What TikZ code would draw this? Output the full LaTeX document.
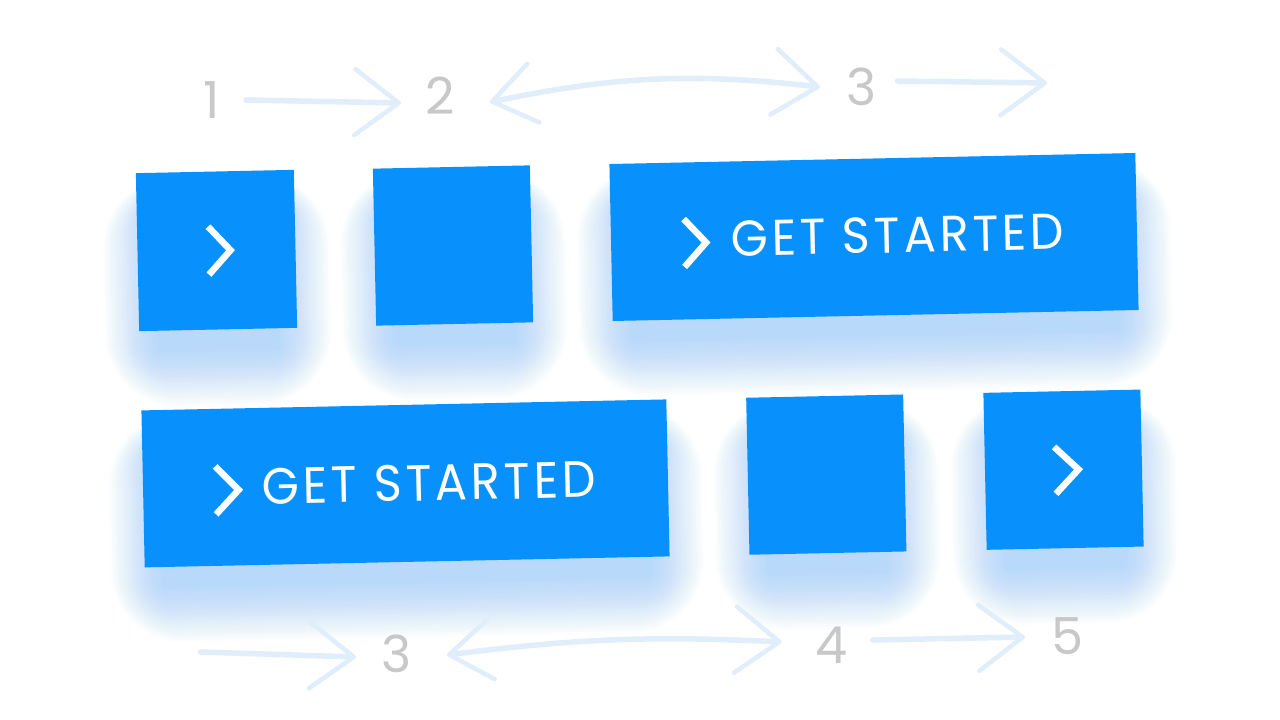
\documentclass[tikz,border=0pt]{standalone}
\usepackage{fontspec}
\usetikzlibrary{arrows.meta}
\newfontfamily\pop{Poppins}
\newfontfamily\popsp{Poppins}[LetterSpace=8]
\definecolor{btn}{HTML}{0890FD}
\definecolor{shd}{HTML}{70B9FA}
\definecolor{arr}{HTML}{E0EEFC}
\definecolor{num}{HTML}{C8C8C8}
\newcommand\shadowlayers[2]{%
  \foreach \d in {72,69,...,3}{%
    \fill[shd, opacity=0.025, rounded corners=\d pt]
      ({-#1/2+20-0.75*\d},{-#2/2+40-0.5*\d}) rectangle ({#1/2-20+0.75*\d},{#2/2+18+0.8*\d});}}
\tikzset{
  btnbox/.style={fill=btn, draw=none, inner sep=0pt, minimum height=157pt},
  chevron/.style={draw=white, line width=6.5pt, line cap=butt, line join=miter},
  numlabel/.style={text=num, inner sep=0pt, font=\pop\fontsize{51}{51}\selectfont},
  btntext/.style={text=white, inner sep=0pt},
  hand/.style={draw=arr, line width=5.5pt, line cap=round},
  tipr/.style={-{Straight Barb[length=44pt,width=66pt,line width=4.5pt,round]}},
  tipb/.style={{Straight Barb[length=42pt,width=60pt,line width=4.5pt,round]}-{Straight Barb[length=44pt,width=66pt,line width=4.5pt,round]}}
}
\begin{document}
\begin{tikzpicture}[x=1pt,y=-1pt]
\useasboundingbox (0,0) rectangle (1280,720);
\fill[white] (0,0) rectangle (1280,720);

% ---------- shadows ----------
\begin{scope}[shift={(216.5,250.5)}, rotate=1.2]\shadowlayers{158}{158}\end{scope}
\begin{scope}[shift={(453,245.5)}, rotate=1.2]\shadowlayers{157}{157}\end{scope}
\begin{scope}[shift={(874,237)}, rotate=1.2]\shadowlayers{526}{157}\end{scope}
\begin{scope}[shift={(405.5,483.4)}, rotate=1.2]\shadowlayers{525}{157}\end{scope}
\begin{scope}[shift={(826.3,474.6)}, rotate=1.2]\shadowlayers{157}{157}\end{scope}
\begin{scope}[shift={(1063.5,469.7)}, rotate=1.2]\shadowlayers{157}{157}\end{scope}

% ---------- buttons ----------
\begin{scope}[shift={(216.5,250.5)}, rotate=1.2, transform shape]
  \node[btnbox, minimum width=158pt, minimum height=158pt] (b1) at (0,0) {};
  \draw[chevron] (-8,-24) -- (14,0) -- (-8,24);
\end{scope}
\begin{scope}[shift={(453,245.5)}, rotate=1.2, transform shape]
  \node[btnbox, minimum width=157pt] (b2) at (0,0) {};
\end{scope}
\begin{scope}[shift={(874,237)}, rotate=1.2, transform shape]
  \node[btnbox, minimum width=526pt] (b3) at (0,0) {};
  \draw[chevron] (-190,-22) -- (-168,2) -- (-190,26);
  \node[btntext] (t3) at (23.7,-1.5) {\resizebox{333pt}{35.5pt}{\popsp GET STARTED}};
\end{scope}
\begin{scope}[shift={(405.5,483.4)}, rotate=1.2, transform shape]
  \node[btnbox, minimum width=525pt] (b4) at (0,0) {};
  \draw[chevron] (-190,-21) -- (-167,3) -- (-190,27);
  \node[btntext] (t4) at (23.5,0) {\resizebox{334pt}{36pt}{\popsp GET STARTED}};
\end{scope}
\begin{scope}[shift={(826.3,474.6)}, rotate=1.2, transform shape]
  \node[btnbox, minimum width=157pt] (b5) at (0,0) {};
\end{scope}
\begin{scope}[shift={(1063.5,469.7)}, rotate=1.2, transform shape]
  \node[btnbox, minimum width=157pt] (b6) at (0,0) {};
  \draw[chevron] (-9,-23) -- (15,0) -- (-8,24);
\end{scope}

% ---------- numbers ----------
\node[numlabel] (n1) at (211.5,100) {1};
\node[numlabel] (n2) at (440.5,95.5) {2};
\node[numlabel] (n3) at (861.5,86.5) {3};
\node[numlabel] (m3) at (397,654) {3};
\node[numlabel] (m4) at (831.5,645) {4};
\node[numlabel] (m5) at (1068,636.5) {5};

% ---------- hand-drawn arrows ----------
\coordinate (a12s) at (246,100);   \coordinate (a12e) at (401,103);
\coordinate (a23s) at (490,102);   \coordinate (a23e) at (820,87);
\coordinate (a3s)  at (897.5,81);  \coordinate (a3e)  at (1047,83);
\coordinate (b3s)  at (200.5,652); \coordinate (b3e)  at (356,657);
\coordinate (b34s) at (447,655);   \coordinate (b34e) at (781.7,642);
\coordinate (b45s) at (872.7,640); \coordinate (b45e) at (1025,637);

\draw[hand, tipr] (a12s) -- (a12e);
\draw[hand, tipb] (a23s) to[bend left=9] (a23e);
\draw[hand, tipr] (a3s) -- (a3e);
\draw[hand, tipr] (b3s) -- (b3e);
\draw[hand, tipb] (b34s) to[bend left=5] (b34e);
\draw[hand, tipr] (b45s) -- (b45e);
\end{tikzpicture}
\end{document}
